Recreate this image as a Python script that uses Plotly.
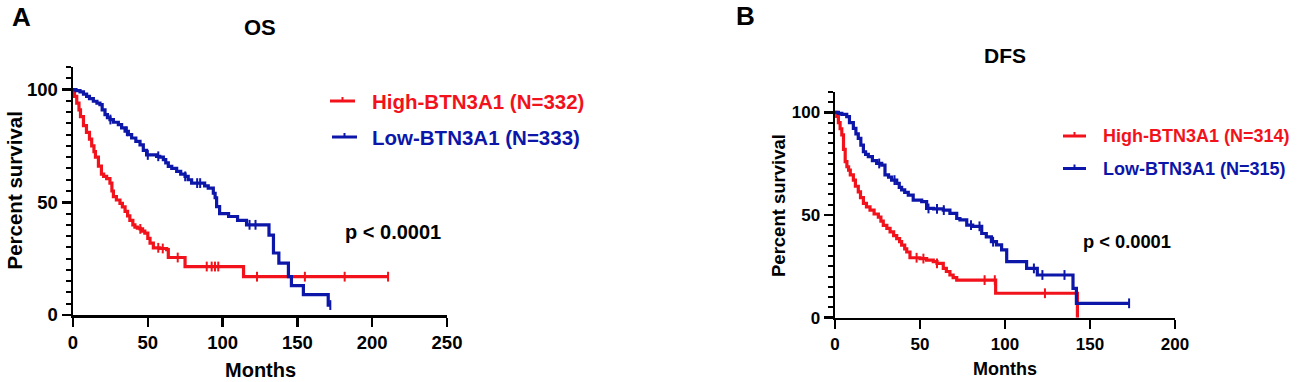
import numpy as np
import plotly.graph_objects as go

W, H = 1299, 382

# ---------------- Data ----------------
# Panel A : OS
os_high_t = [0, 1, 2.5, 4, 5, 7, 9, 11, 12.5, 14, 15, 17, 19, 20.5, 22.5, 24.7, 26, 27, 29, 31.4,
             33, 34.8, 36.5, 38, 40, 41.4, 43, 44.8, 46.5, 48, 50, 51.5, 53.7, 58, 62.6, 63.7,
             74.9, 114, 211]
os_high_s = [100, 97, 94, 91, 88, 84, 81, 78, 75, 72.5, 70, 66, 62.5, 61.5, 60.5, 58.5, 55, 52.5, 51, 49.5,
             48, 46, 44, 42, 40, 39, 38.5, 38.2, 37.2, 36.3, 34, 31.9, 29.8, 29.5, 29, 25.5,
             21.5, 17, 17]
os_high_cens = [45, 57, 60, 70, 89.4, 92.7, 94.9, 97.1, 123, 155, 181.6, 210.6]

os_low_t = [0, 2, 4.7, 7, 9.1, 11, 13.6, 16, 18, 19.5, 21.4, 23, 24.7, 27, 30.3, 32.5, 34.8, 37, 39.2,
            42, 44.8, 47, 49.2, 53, 55.9, 58, 60.4, 62, 63.7, 66, 69.3, 72, 74.9, 77, 79.3, 86, 88,
            90.4, 93.8, 95, 96, 98, 104, 110, 116, 131, 134, 137.6, 144, 146, 154, 170.6, 172]
os_low_s = [100, 99.5, 99, 98, 97, 96, 94.8, 94, 93.3, 91, 88.9, 87.5, 86.7, 85.5, 84.4, 83, 81.5, 80, 78.5,
            77, 75.5, 73, 71, 71, 70.4, 70, 68.9, 67.5, 65.9, 65, 63.7, 62.5, 61.5, 60, 58.5, 58.5, 57.3,
            56.3, 54, 52, 48.1, 45, 43.7, 42, 40, 35.4, 27.5, 23, 17, 13, 9, 4.4, 4.4]
os_low_cens = [25, 36, 50, 57, 75, 83, 85, 118, 122, 172]

# Panel B : DFS
dfs_high_t = [0, 1, 2, 3, 4, 5, 6, 7, 8, 9, 10.8, 12, 13.7, 15, 16.7, 18.5, 20.6, 23, 25.5, 27, 28.4,
              30.5, 32.4, 34.5, 36.3, 38, 39.2, 41, 42.2, 44.1, 50, 53.9, 57.8, 60, 63.7, 65.5, 67.6,
              69.5, 71.6, 94.5, 142.6]
dfs_high_s = [100, 98, 95, 92, 89, 82, 76, 73.5, 71.9, 69.5, 67, 64, 61.3, 58.5, 55.7, 54, 52.4, 50.5, 49, 47, 45,
              43.5, 41.8, 40, 38.5, 37, 35.3, 33.5, 32, 29.2, 28.8, 28, 27.3, 26.5, 24, 22.5, 20.8,
              19.5, 18.3, 11.9, 0]
dfs_high_cens = [48, 52, 60, 88, 94, 123.5]

dfs_low_t = [0, 2, 4, 6.9, 8.5, 10.8, 12.3, 13.7, 15.2, 16.7, 18, 19.6, 22, 24.5, 27.5, 29.4, 31.5, 33.3,
             36.3, 37.8, 39.2, 41, 43.1, 46, 51, 53.9, 58, 63.7, 67.6, 71.6, 73.5, 77.5, 81, 86.3, 89,
             92, 95, 98, 101, 112.7, 119, 140, 142, 173]
dfs_low_s = [100, 99.5, 99, 97.9, 95, 92.2, 89.5, 87.3, 84, 80.8, 79.5, 78.4, 76.5, 75.1, 74.3, 69.5, 68.5, 67,
             65.4, 63.5, 62.2, 61, 59.7, 57.3, 56.5, 53.2, 53, 52.4, 50.8, 48.3, 47.6, 45.1, 44.5, 41, 39.4,
             37, 35.5, 33, 27.3, 24, 20.8, 14.3, 7, 7]
dfs_low_cens = [26, 35, 55, 60, 64, 80, 85, 93, 117, 122, 135, 173]

os_x_ticks = [0, 50, 100, 150, 200, 250]
dfs_x_ticks = [0, 50, 100, 150, 200]
y_ticks = [0, 50, 100]

RED = "#F2121B"
BLUE = "#0C16A8"
FONT = "Liberation Sans, Arial, sans-serif"


def px_x(p):
    return p / W


def px_y(p):
    return 1 - p / H


def step_val(t, s, x):
    i = int(np.searchsorted(np.asarray(t), x, side="right")) - 1
    return s[max(i, 0)]


fig = go.Figure()


def add_curve(t, s, cens, color, xa, ya, name):
    fig.add_trace(go.Scatter(x=t, y=s, mode="lines", name=name,
                             line=dict(color=color, width=3.2, shape="hv"),
                             xaxis=xa, yaxis=ya, showlegend=False, hoverinfo="skip"))
    cy = [step_val(t, s, c) for c in cens]
    fig.add_trace(go.Scatter(x=cens, y=cy, mode="markers", name=name + " censored",
                             marker=dict(symbol="line-ns", size=7, color=color,
                                         line=dict(color=color, width=2)),
                             xaxis=xa, yaxis=ya, showlegend=False, hoverinfo="skip",
                             cliponaxis=False))


add_curve(os_high_t, os_high_s, os_high_cens, RED, "x", "y", "High-BTN3A1")
add_curve(os_low_t, os_low_s, os_low_cens, BLUE, "x", "y", "Low-BTN3A1")
add_curve(dfs_high_t, dfs_high_s, dfs_high_cens, RED, "x2", "y2", "High-BTN3A1")
add_curve(dfs_low_t, dfs_low_s, dfs_low_cens, BLUE, "x2", "y2", "Low-BTN3A1")


def xaxis_cfg(dom, rng, ticks, fsize, anchor):
    return dict(domain=dom, range=rng, tickvals=ticks, ticks="outside", ticklen=9, tickwidth=2.5,
                tickcolor="black", showline=True, linewidth=2.5, linecolor="black",
                showgrid=False, zeroline=False, automargin=False, anchor=anchor,
                tickfont=dict(family=FONT, size=fsize, color="black", weight="bold"))


def yaxis_cfg(dom, anchor, fsize):
    return dict(domain=dom, range=[0, 110], tickvals=y_ticks, ticks="outside", ticklen=9,
                tickwidth=2.5, tickcolor="black", showline=True, linewidth=2.5, linecolor="black",
                showgrid=False, zeroline=False, automargin=False, anchor=anchor,
                minor=dict(dtick=5, tick0=0, ticks="outside", ticklen=5, tickwidth=2,
                           tickcolor="black", showgrid=False),
                tickfont=dict(family=FONT, size=fsize, color="black", weight="bold"))


fig.update_layout(
    width=W, height=H,
    margin=dict(l=0, r=0, t=0, b=0),
    paper_bgcolor="white", plot_bgcolor="white",
    showlegend=False,
    font=dict(family=FONT, color="black"),
    xaxis=xaxis_cfg([px_x(73), px_x(447)], [0, 250], os_x_ticks, 18.5, "y"),
    yaxis=yaxis_cfg([px_y(315), px_y(67)], "x", 18.5),
    xaxis2=xaxis_cfg([px_x(835), px_x(1175)], [0, 200], dfs_x_ticks, 17, "y2"),
    yaxis2=yaxis_cfg([px_y(317.7), px_y(91.8)], "x2", 17),
)


def ann(text, x, y, size, color="black", xanchor="center", angle=0):
    fig.add_annotation(text=text, x=px_x(x), y=px_y(y), xref="paper", yref="paper",
                       xanchor=xanchor, yanchor="middle", showarrow=False, textangle=angle,
                       font=dict(family=FONT, size=size, color=color, weight="bold"))


# panel letters and titles
ann("A", 21, 17, 26)
ann("B", 745, 16.5, 26)
ann("OS", 260, 28, 22)
ann("DFS", 1005.5, 55.5, 21)

# axis titles
ann("Months", 260, 370, 20)
ann("Percent survival", 13.5, 191, 20.5, angle=-90)
ann("Months", 1005, 369, 18)
ann("Percent survival", 778, 205, 18.5, angle=-90)

# p values
ann("p &lt; 0.0001", 343, 232, 20, xanchor="left")
ann("p &lt; 0.0001", 1080.5, 242, 18.3, xanchor="left")

# legends
legends = [
    (330, 355, 370, 101, "High-BTN3A1 (N=332)", RED, 20.5),
    (332, 357, 370, 137, "Low-BTN3A1 (N=333)", BLUE, 20.5),
    (1063, 1086, 1101, 136, "High-BTN3A1 (N=314)", RED, 18),
    (1063, 1086, 1101, 168.5, "Low-BTN3A1 (N=315)", BLUE, 18),
]
for x0, x1, xt, yy, label, col, fs in legends:
    fig.add_shape(type="line", xref="paper", yref="paper", x0=px_x(x0), x1=px_x(x1),
                  y0=px_y(yy), y1=px_y(yy), line=dict(color=col, width=3))
    xm = (x0 + x1) / 2
    fig.add_shape(type="line", xref="paper", yref="paper", x0=px_x(xm), x1=px_x(xm),
                  y0=px_y(yy - 4), y1=px_y(yy + 1), line=dict(color=col, width=2))
    ann(label, xt, yy, fs, color=col, xanchor="left")

fig.write_html("out.html", config={"displayModeBar": False, "staticPlot": True},
               post_script="document.body.style.margin='0';document.body.style.overflow='hidden';")
